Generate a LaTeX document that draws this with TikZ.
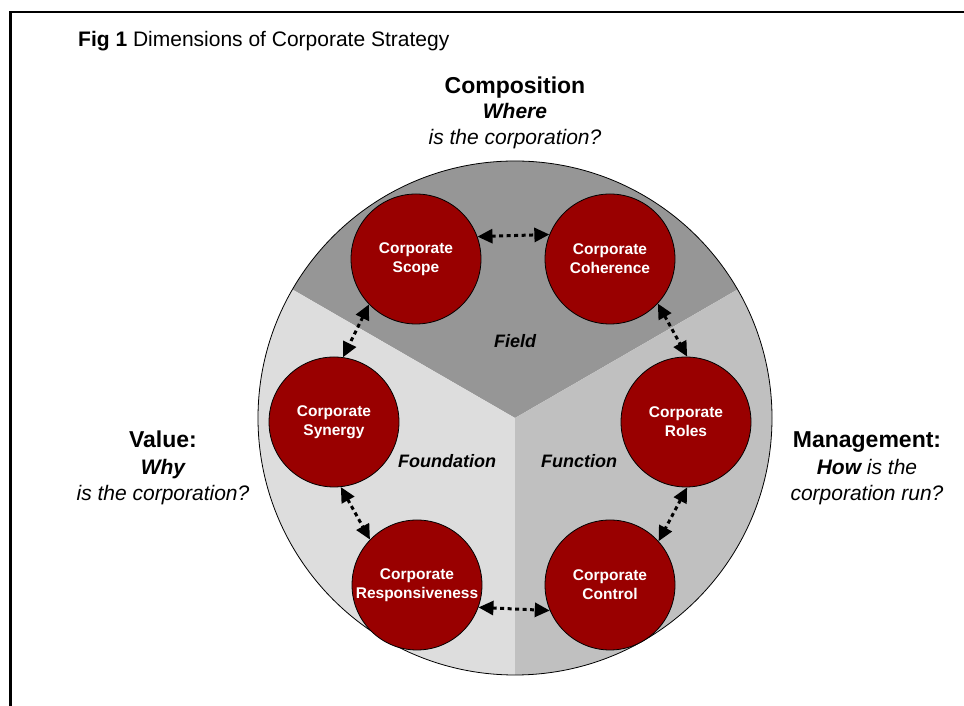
\documentclass[tikz,border=0pt]{standalone}
\usepackage{fontspec}
\setmainfont{Liberation Sans}
\usetikzlibrary{arrows.meta}
\definecolor{corpred}{RGB}{153,0,0}
\definecolor{fieldgray}{RGB}{150,150,150}
\definecolor{foundgray}{RGB}{221,221,221}
\definecolor{funcgray}{RGB}{192,192,192}
\tikzset{
  corpnode/.style={circle,draw=black,line width=0.8pt,fill=corpred,text=white,align=center,
    font=\fontsize{15.5}{19}\selectfont\bfseries,minimum size=130pt,inner sep=0pt},
  headtxt/.style={anchor=base,font=\fontsize{23}{26}\selectfont\bfseries},
  whytxt/.style={anchor=base,font=\fontsize{21}{26}\selectfont\bfseries\itshape},
  asktxt/.style={anchor=base,font=\fontsize{21}{26}\selectfont\itshape},
  sectortxt/.style={anchor=base,font=\fontsize{18}{22}\selectfont\bfseries\itshape},
  link/.style={{Triangle[length=15pt,width=14pt]}-{Triangle[length=15pt,width=14pt]},
    line width=3pt,dash pattern=on 4pt off 3.5pt},
}

\begin{document}
\begin{tikzpicture}[x=1pt,y=1pt]
  \useasboundingbox (0,0) rectangle (964,706);
  % --- frame ---
  \draw[line width=2.2pt] (10.5,0) -- (10.5,694) -- (964,694);
  \node[anchor=base west,inner sep=0pt,font=\fontsize{21}{25}\selectfont] (figtitle) at (78,659)
    {\textbf{Fig 1} Dimensions of Corporate Strategy};
  % --- three sectors of the disc ---
  \coordinate (C) at (515,288);
  \fill[fieldgray] (C) -- ++(30:257pt) arc[start angle=30,end angle=150,radius=257pt] -- cycle;
  \fill[foundgray] (C) -- ++(150:257pt) arc[start angle=150,end angle=270,radius=257pt] -- cycle;
  \fill[funcgray]  (C) -- ++(270:257pt) arc[start angle=270,end angle=390,radius=257pt] -- cycle;
  \draw[line width=0.8pt] (C) circle[radius=257pt];
  \node[sectortxt] (field) at (515,358) {Field};
  \node[sectortxt] (found) at (447,238) {Foundation};
  \node[sectortxt] (func)  at (579,238) {Function};
  % --- the six dimensions ---
  \node[corpnode] (scope)     at (416,447) {Corporate\\Scope};
  \node[corpnode] (coherence) at (610,447) {Corporate\\Coherence};
  \node[corpnode] (synergy)   at (334,284) {Corporate\\Synergy};
  \node[corpnode] (roles)     at (686,284) {Corporate\\Roles};
  \node[corpnode] (resp)      at (417,121) {Corporate\\Responsiveness};
  \node[corpnode] (control)   at (610,121) {Corporate\\Control};
  % --- links round the ring ---
  \draw[link] (scope.20)     -- (coherence.158);
  \draw[link] (scope.224)    -- (synergy.82);
  \draw[link] (coherence.317)-- (roles.89);
  \draw[link] (synergy.276)  -- (resp.136);
  \draw[link] (roles.271)    -- (control.42);
  \draw[link] (resp.340)     -- (control.203);
  % --- questions ---
  \node[headtxt] (compo) at (515,612.5) {Composition};
  \node[whytxt]  (where) at (515,587) {Where};
  \node[asktxt]  (whereq) at (515,561) {is the corporation?};
  \node[headtxt] (value) at (163,258) {Value:};
  \node[whytxt]  (why)   at (163,231) {Why};
  \node[asktxt]  (whyq)  at (163,205) {is the corporation?};
  \node[headtxt] (manage) at (867,258) {Management:};
  \node[asktxt]  (how)    at (867,231) {\textbf{How} is the};
  \node[asktxt]  (howq)   at (867,205) {corporation run?};
\end{tikzpicture}
\end{document}
